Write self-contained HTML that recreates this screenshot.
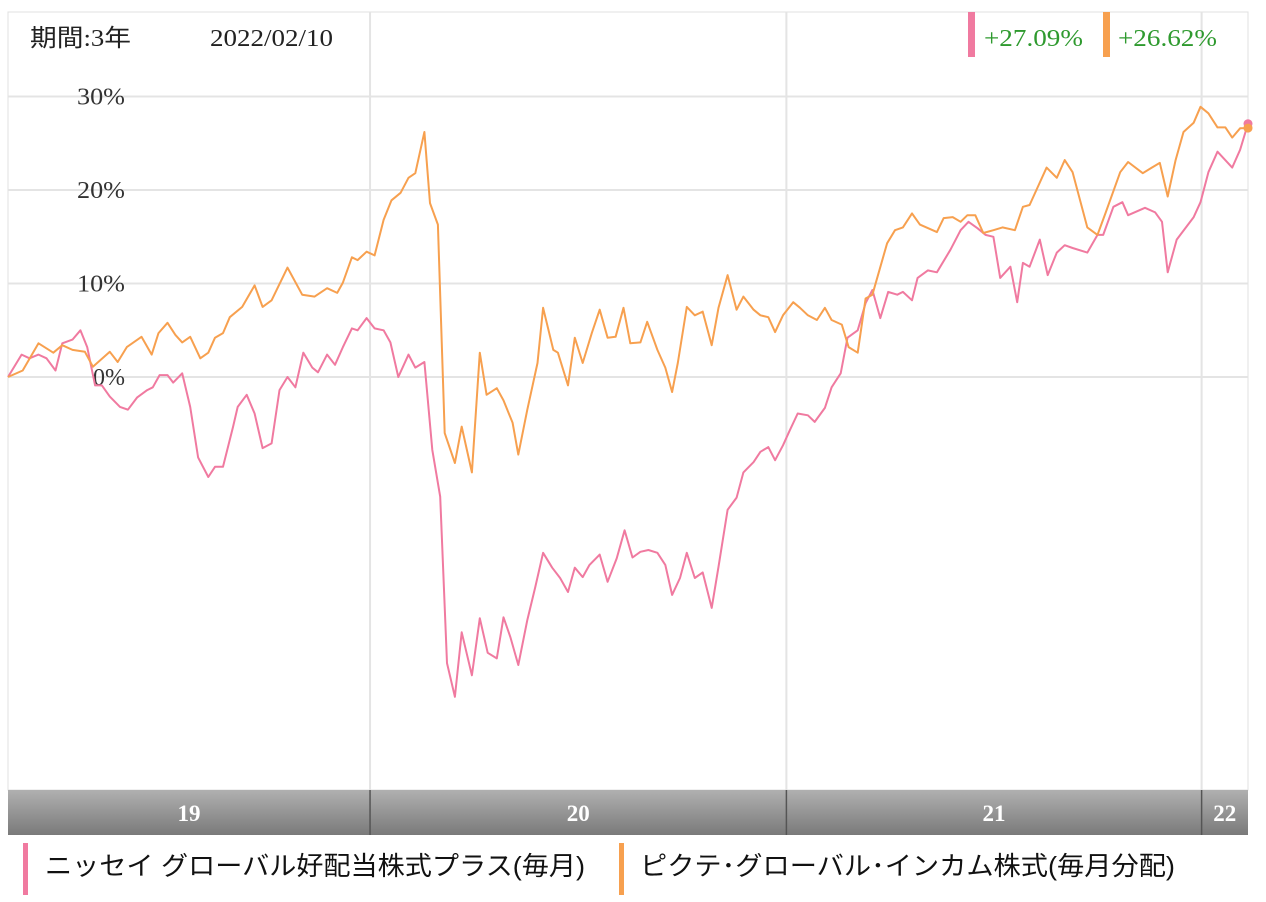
<!DOCTYPE html>
<html><head><meta charset="utf-8">
<style>
body{margin:0;background:#fff;width:1266px;height:902px;overflow:hidden;font-family:"Liberation Sans","Noto Sans CJK JP",sans-serif;}
svg{display:block}
.serif{font-family:"Liberation Serif","Noto Sans CJK JP",serif;}
</style></head>
<body>
<svg id="chart" width="1266" height="902">
  <defs>
    <linearGradient id="band" x1="0" y1="0" x2="0" y2="1">
      <stop offset="0" stop-color="#b0b0b0"/><stop offset="1" stop-color="#7a7a7a"/>
    </linearGradient>
  </defs>
  <rect x="8" y="12" width="1240" height="778" fill="#fff" stroke="#e0e0e0"/>
  <g id="grid"></g>
  <g id="yticks"></g>
  <rect x="8" y="790" width="1240" height="45" fill="url(#band)"/>
  <g id="xticks"></g>
  <g id="series"></g>
  <text x="30" y="46" font-size="24" fill="#222" class="serif" textLength="101" lengthAdjust="spacingAndGlyphs">期間:3年</text>
  <text x="210" y="46" font-size="24" fill="#222" class="serif" textLength="123" lengthAdjust="spacingAndGlyphs">2022/02/10</text>
  <rect x="968" y="12" width="7" height="45" fill="#f07aa0"/>
  <text x="984" y="46" font-size="24" fill="#2f9a2f" class="serif" textLength="99" lengthAdjust="spacingAndGlyphs">+27.09%</text>
  <rect x="1103" y="12" width="7" height="45" fill="#f7a04f"/>
  <text x="1118" y="46" font-size="24" fill="#2f9a2f" class="serif" textLength="99" lengthAdjust="spacingAndGlyphs">+26.62%</text>
  <g>
    <rect x="23" y="843" width="5" height="52" fill="#f07aa0"/>
    <text x="45" y="875" font-size="26" fill="#111" textLength="540" lengthAdjust="spacingAndGlyphs">ニッセイ グローバル好配当株式プラス(毎月)</text>
  </g>
  <g>
    <rect x="619" y="843" width="5" height="52" fill="#f7a04f"/>
    <text x="640" y="875" font-size="26" fill="#111" textLength="535" lengthAdjust="spacingAndGlyphs">ピクテ･グローバル･インカム株式(毎月分配)</text>
  </g>
</svg>
<script>
const yTicks=[0,10,20,30];
const yTickLabels=["0%","10%","20%","30%"];
const yearLabels=["19","20","21","22"];
const yearStarts=[-41,320,688,1055];
const daysPink=[0,12,19,27,34,42,48,57,64,70,77,83,90,99,106,114,123,128,134,141,146,154,161,168,177,183,190,199,203,211,218,225,233,240,247,254,261,269,274,282,289,296,304,309,317,324,332,338,345,354,360,368,375,382,388,395,401,410,417,424,432,438,444,451,459,466,473,481,488,495,501,508,514,523,530,538,545,552,559,566,574,581,587,594,600,607,614,622,628,636,644,650,659,665,672,678,685,691,698,707,713,722,728,736,742,751,758,764,771,778,786,791,799,804,813,821,833,842,849,857,864,871,877,886,892,897,903,912,919,927,934,941,954,963,968,977,985,990,1005,1014,1020,1025,1033,1048,1054,1061,1069,1082,1089,1096];
const valuesPink=[0,2.4,2.0,2.4,2.0,0.7,3.6,4.0,5.0,3.2,-0.9,-0.9,-2.1,-3.2,-3.5,-2.2,-1.4,-1.1,0.2,0.2,-0.6,0.4,-3.2,-8.6,-10.7,-9.6,-9.6,-5.3,-3.2,-1.9,-3.9,-7.6,-7.1,-1.4,0,-1.1,2.6,1.0,0.5,2.4,1.3,3.2,5.2,5.0,6.3,5.2,5.0,3.7,0,2.4,1.0,1.6,-7.8,-12.8,-30.6,-34.2,-27.3,-31.9,-25.8,-29.5,-30.1,-25.7,-27.8,-30.8,-26.0,-22.5,-18.8,-20.4,-21.5,-23.0,-20.4,-21.4,-20.1,-19.0,-21.9,-19.4,-16.4,-19.3,-18.7,-18.5,-18.8,-20.1,-23.3,-21.5,-18.8,-21.5,-20.9,-24.7,-20.3,-14.2,-12.9,-10.2,-9.1,-8.0,-7.5,-8.9,-7.3,-5.7,-3.9,-4.1,-4.8,-3.3,-1.1,0.4,4.2,5.0,7.9,9.3,6.3,9.1,8.8,9.1,8.2,10.6,11.4,11.2,13.6,15.7,16.6,15.9,15.2,15.0,10.6,11.8,8.0,12.2,11.8,14.7,10.9,13.3,14.1,13.8,13.3,15.2,15.2,18.2,18.7,17.3,18.1,17.6,16.6,11.2,14.7,17.1,18.7,21.9,24.1,22.4,24.3,27.09];
const daysOrange=[0,13,27,40,48,57,68,75,90,97,105,118,127,133,141,148,154,161,170,177,183,190,196,207,218,225,233,247,260,271,282,291,296,304,309,317,324,332,339,347,354,360,368,373,380,386,395,401,410,417,423,432,438,446,451,459,468,473,482,486,495,501,508,516,523,530,537,544,550,559,565,574,581,587,592,600,607,614,622,628,636,644,650,659,665,672,678,685,694,700,707,715,722,728,737,743,751,758,764,777,784,791,799,806,821,827,835,842,848,855,862,871,879,890,897,903,918,927,934,941,954,963,970,983,990,1003,1011,1018,1025,1032,1039,1048,1054,1061,1069,1076,1082,1089,1096];
const valuesOrange=[0,0.7,3.6,2.6,3.4,2.9,2.7,1.1,2.7,1.6,3.2,4.3,2.4,4.7,5.8,4.5,3.7,4.3,2.0,2.6,4.2,4.7,6.4,7.5,9.8,7.5,8.2,11.7,8.8,8.6,9.5,9.0,10.1,12.8,12.5,13.4,13.0,16.8,18.9,19.7,21.3,21.8,26.2,18.6,16.3,-6.0,-9.2,-5.3,-10.2,2.6,-1.9,-1.2,-2.5,-4.9,-8.3,-3.5,1.5,7.4,2.9,2.6,-0.9,4.2,1.5,4.7,7.2,4.2,4.3,7.4,3.6,3.7,5.9,2.9,1.0,-1.6,1.5,7.5,6.6,7.0,3.4,7.4,10.9,7.2,8.6,7.2,6.6,6.4,4.8,6.6,8.0,7.4,6.6,6.1,7.4,6.1,5.6,3.2,2.6,8.4,8.8,14.3,15.7,16.0,17.5,16.3,15.5,17.0,17.1,16.6,17.3,17.3,15.4,15.7,16.0,15.7,18.2,18.4,22.4,21.3,23.2,21.9,16.0,15.2,17.5,21.9,23.0,21.8,22.4,22.9,19.3,23.2,26.2,27.2,28.9,28.2,26.7,26.7,25.6,26.6,26.62];

const X0=8,X1=1248,DMAX=1096;
function xScale(d){return X0+d/DMAX*(X1-X0);}
function yScale(v){return 377-v*9.35;}
const NS="http://www.w3.org/2000/svg";
function mk(tag,attrs,parent){const e=document.createElementNS(NS,tag);for(const k in attrs)e.setAttribute(k,attrs[k]);parent.appendChild(e);return e;}
const grid=document.getElementById('grid'),yt=document.getElementById('yticks'),xt=document.getElementById('xticks'),ser=document.getElementById('series');
yTicks.forEach((v,i)=>{
  const l=mk('line',{x1:X0,x2:X1,y1:yScale(v),y2:yScale(v),stroke:'#e4e4e4','stroke-width':2},grid);
  
  
  const t=mk('text',{x:125,y:yScale(v)+8,'text-anchor':'end','font-size':24,fill:'#333','class':'serif',textLength:yTickLabels[i].length*16,lengthAdjust:'spacingAndGlyphs'},yt);
  t.textContent=yTickLabels[i];
  
  
});
yearStarts.forEach((d,i)=>{
  const x=xScale(d);
  if(i>0){
    const g=mk('line',{x1:x,x2:x,y1:12,y2:790,stroke:'#e4e4e4','stroke-width':2},grid);
    
    
    const s=mk('line',{x1:x,x2:x,y1:790,y2:835,stroke:'#555','stroke-width':1.5},xt);
    
    
  }
  const next=i<yearStarts.length-1?xScale(yearStarts[i+1]):X1;
  const cx=(Math.max(x,X0)+next)/2;
  const t=mk('text',{x:cx,y:821,'text-anchor':'middle','font-size':23,fill:'#fff','font-weight':'bold','class':'serif'},xt);
  t.textContent=yearLabels[i];
  
  
});
function drawLine(days,vals,color,name){
  const pts=days.map((d,i)=>xScale(d).toFixed(1)+','+yScale(vals[i]).toFixed(1)).join(' ');
  const p=mk('polyline',{points:pts,fill:'none',stroke:color,'stroke-width':2,'stroke-linejoin':'round'},ser);
  
  
  const n=days.length-1;
  const c=mk('circle',{cx:xScale(days[n]),cy:yScale(vals[n]),r:4.5,fill:color},ser);
  
  
}
drawLine(daysPink,valuesPink,'#f07aa0','series-nissay-line');
drawLine(daysOrange,valuesOrange,'#f7a04f','series-pictet-line');
</script>
</body></html>
